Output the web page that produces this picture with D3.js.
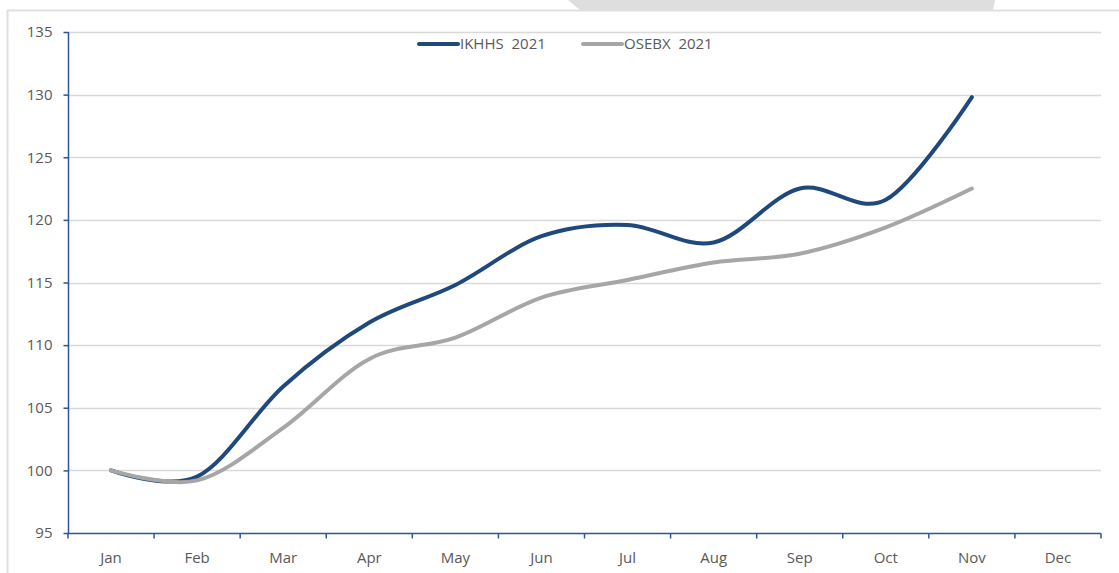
<!DOCTYPE html>
<html>
<head>
<meta charset="utf-8">
<script src="https://cdn.jsdelivr.net/npm/d3@7"></script>
<style>
body{margin:0;background:#fff;}
text{font-family:"Open Sans","Liberation Sans",sans-serif;fill:#595959;}
</style>
</head>
<body>
<script>
var width = 1119,
    height = 573;

var months = ["Jan","Feb","Mar","Apr","May","Jun","Jul","Aug","Sep","Oct","Nov","Dec"];
var seriesNames = ["IKHHS  2021","OSEBX  2021"];
var ikhhs = [100, 99.5, 106.7, 111.8, 114.8, 118.7, 119.6, 118.2, 122.5, 121.6, 129.8];
var osebx = [100, 99.2, 103.4, 108.9, 110.6, 113.8, 115.2, 116.6, 117.3, 119.4, 122.5];
var yTicks = [95,100,105,110,115,120,125,130,135];
var colors = ["#1f497d","#a6a6a6"];

var svg = d3.select("body").append("svg")
    .attr("width", width)
    .attr("height", height);

// frame and decoration
svg.append("path")
    .attr("d", "M568,0L995,0L993,10L580,10Z")
    .attr("fill", "#dedede");
svg.append("line").attr("x1",7).attr("x2",width).attr("y1",10.5).attr("y2",10.5)
    .attr("stroke","#e0e0e0").attr("stroke-width",2);
svg.append("line").attr("x1",7.5).attr("x2",7.5).attr("y1",10).attr("y2",height)
    .attr("stroke","#e0e0e0").attr("stroke-width",2);

var x = d3.scaleBand().domain(months).range([68, 1101]);
var y = d3.scaleLinear().domain([95,135]).range([533, 32]);

// gridlines
svg.append("g").selectAll("line")
    .data(yTicks.slice(1))
    .enter().append("line")
    .attr("x1", 68).attr("x2", 1101)
    .attr("y1", function(d){ return Math.round(y(d))+0.5; })
    .attr("y2", function(d){ return Math.round(y(d))+0.5; })
    .attr("stroke", "#d9d9d9")
    .attr("stroke-width", 1.5);

// y axis
var yAxis = svg.append("g")
    .attr("transform","translate(68.5,0)")
    .call(d3.axisLeft(y).tickValues(yTicks).tickSize(5).tickPadding(11));
yAxis.selectAll("path,line").attr("stroke","#2f5597").attr("stroke-width",1.5);
yAxis.selectAll("text").style("font-size","15px").attr("fill","#595959");
yAxis.select(".domain").attr("d","M0,32V533");

// x axis with ticks at band edges
var xAxis = svg.append("g").attr("transform","translate(0,533.5)");
xAxis.append("line").attr("x1",68).attr("x2",1101)
    .attr("stroke","#2f5597").attr("stroke-width",1.5);
xAxis.selectAll("line.tick")
    .data(months.concat(["end"]))
    .enter().append("line")
    .attr("class","tick")
    .attr("x1", function(d,i){ return i < months.length ? x(d) : x.range()[1]; })
    .attr("x2", function(d,i){ return i < months.length ? x(d) : x.range()[1]; })
    .attr("y1",0).attr("y2",5)
    .attr("stroke","#2f5597").attr("stroke-width",1.5);
xAxis.selectAll("text")
    .data(months)
    .enter().append("text")
    .attr("x", function(d){ return x(d) + x.bandwidth()/2; })
    .attr("y", 29)
    .attr("text-anchor","middle")
    .style("font-size","15px")
    .text(function(d){ return d; });

var line = d3.line()
    .x(function(d,i){ return x(months[i]) + x.bandwidth()/2; })
    .y(function(d){ return y(d); })
    .curve(d3.curveCardinal.tension(0));

// blue first, gray on top (they only touch near Jan-Feb)
[ikhhs, osebx].forEach(function(data, k){
    svg.append("path")
        .attr("d", line(data))
        .attr("fill","none")
        .attr("stroke", colors[k])
        .attr("stroke-width", 4)
        .attr("stroke-linecap","round");
});

// legend
var legendX = [419, 583];
var legend = svg.append("g");
seriesNames.forEach(function(name, i){
    legend.append("line")
        .attr("x1", legendX[i]).attr("x2", legendX[i]+39)
        .attr("y1", 44).attr("y2", 44)
        .attr("stroke", colors[i]).attr("stroke-width", 4)
        .attr("stroke-linecap","round");
    legend.append("text")
        .attr("x", legendX[i]+41).attr("y", 49)
        .attr("xml:space","preserve")
        .style("font-size","15px")
        .style("white-space","pre")
        .text(name);
});
</script>
</body>
</html>
